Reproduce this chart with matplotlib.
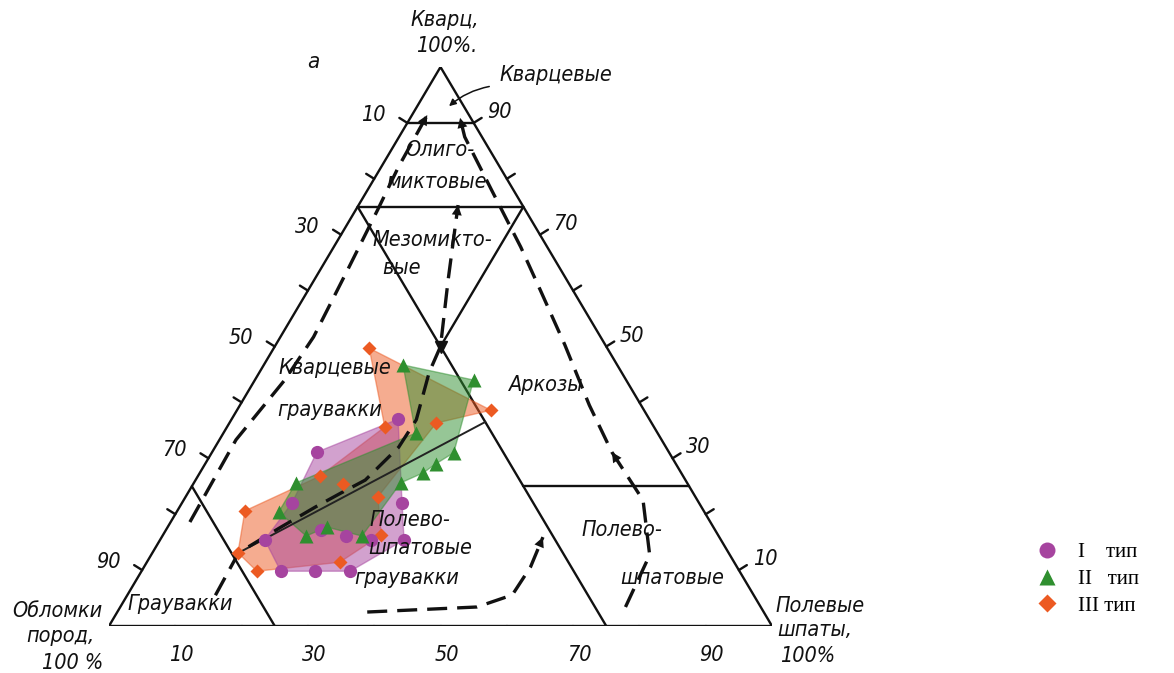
import numpy as np
import matplotlib.pyplot as plt
from matplotlib.lines import Line2D

# compositions: Q = quartz %, F = feldspar %, rock fragments = 100 - Q - F
q1 = [37.0, 22.0, 15.4, 9.8, 9.8, 9.8, 15.4, 22.0, 31.1, 17.2, 16.1, 15.4]
f1 = [25.1, 33.2, 36.8, 31.5, 26.1, 21.0, 15.8, 16.6, 15.8, 23.4, 27.7, 31.8]
q2 = [46.7, 44.0, 31.0, 29.0, 27.4, 25.6, 16.1, 17.7, 16.1, 20.4, 25.6, 34.5]
f2 = [21.0, 33.0, 36.5, 34.8, 33.7, 31.2, 30.1, 24.0, 21.7, 15.4, 15.4, 29.0]
q3 = [49.7, 38.6, 36.3, 23.1, 16.3, 11.4, 9.8, 13.1, 20.6, 26.8, 35.6, 25.4]
f3 = [14.4, 38.3, 31.2, 29.0, 32.9, 29.1, 17.4, 12.9, 10.2, 18.4, 23.8, 22.6]

# outline order of each field
outline1 = [0, 1, 2, 3, 4, 5, 6, 7, 8]
outline2 = list(range(12))
outline3 = list(range(11))

# trend lines (dashed)
left_q = [18.6, 33.3, 44.0, 51.7, 64.2, 74.4, 82.1, 91.4]
left_f = [2.9, 2.5, 4.5, 5.0, 4.1, 3.3, 2.6, 2.3]
mid_q = [5.5, 13.1, 17.7, 21.3, 23.8, 26.1, 32.0, 36.9, 45.4, 50.0, 61.9, 75.3]
mid_f = [13.3, 13.0, 17.1, 20.5, 23.1, 25.6, 27.7, 27.9, 25.6, 25.0, 20.2, 15.0]
right_q = [3.4, 12.7, 22.5, 31.1, 39.5, 50.3, 60.1, 67.8, 78.0, 87.5, 90.9]
right_f = [76.2, 75.2, 69.3, 60.3, 52.7, 43.6, 35.0, 28.2, 18.7, 9.9, 7.5]
bot_q = [2.5, 3.4, 5.55, 10.55, 15.9]
bot_f = [37.7, 53.8, 58.05, 58.3, 57.5]

ticks = [10, 20, 30, 40, 50, 60, 70, 80, 90]
labels = [10, 30, 50, 70, 90]


def tern(q, f):
    q = np.asarray(q, float) / 100
    f = np.asarray(f, float) / 100
    return f + q / 2, q


W, H = 1174, 673
fig = plt.figure(figsize=(W / 100, H / 100), dpi=100)
ax = fig.add_axes([109 / W, 47 / H, 663 / W, 559 / H])
ax.set_xlim(0, 1)
ax.set_ylim(0, 1)
ax.axis('off')

hand = dict(family='DejaVu Sans', style='italic', stretch='condensed', color='#111111')


def fp(x, y):
    return x / W, 1 - y / H


def label(x, y, s, size=15.5, **kw):
    fig.text(*fp(x, y), s, fontsize=size, ha='center', va='center', **hand, **kw)


# triangle and field boundaries
lk = dict(color='#111111', lw=1.7, solid_capstyle='round')
ax.plot(*tern([100, 0, 0, 100], [0, 0, 100, 0]), **lk)
ax.plot(*tern([90, 90], [0, 10]), **lk)
ax.plot(*tern([75, 75], [0, 25]), **lk)
ax.plot(*tern([75, 0], [0, 75]), **lk)
ax.plot(*tern([75, 50], [25, 25]), **lk)
ax.plot(*tern([25, 0], [0, 25]), **lk)
ax.plot(*tern([25, 25], [50, 75]), **lk)
ax.plot(*tern([13.1, 36.5], [13.0, 38.5]), color='#222222', lw=1.4, zorder=4)

# ticks
for v in ticks:
    x, y = tern(0, v)
    ax.plot([x, x], [0, -9 / 559], **lk)
    x, y = tern(v, 0)
    ax.plot([x, x - 8 / 663], [y, y + 5 / 559], **lk)
    x, y = tern(v, 100 - v)
    ax.plot([x, x + 8 / 663], [y, y + 5 / 559], **lk)

for v in labels:
    ax.annotate(str(v), tern(0, v), xytext=(6, -29), textcoords='offset pixels',
                ha='center', va='center', fontsize=15.5, **hand)
    ax.annotate(str(100 - v), tern(v, 0), xytext=(-34, 8), textcoords='offset pixels',
                ha='center', va='center', fontsize=15.5, **hand)
    ax.annotate(str(v), tern(v, 100 - v), xytext=(26, 11), textcoords='offset pixels',
                ha='center', va='center', fontsize=15.5, **hand)

# composition fields
fields = {
    'I': (q1, f1, outline1, '#a6449f', 'o', 9.5, 'I    тип'),
    'II': (q2, f2, outline2, '#2f8f2f', '^', 9.5, 'II   тип'),
    'III': (q3, f3, outline3, '#ec5a22', 'D', 7, 'III тип'),
}
for key in ['III', 'I', 'II']:
    q, f, idx, c, m, ms, name = fields[key]
    x, y = tern(q, f)
    ax.fill(x[idx], y[idx], color=c, alpha=0.5, lw=1, ec=c, zorder=3)
for key in ['III', 'I', 'II']:
    q, f, idx, c, m, ms, name = fields[key]
    x, y = tern(q, f)
    ax.plot(x, y, ls='none', marker=m, ms=ms, color=c, mec='none', zorder=5)

# trend arrows
dk = dict(color='#111111', lw=2.4, dashes=(6, 3), zorder=4)
for qq, ff in [(left_q, left_f), (mid_q, mid_f), (right_q, right_f), (bot_q, bot_f)]:
    ax.plot(*tern(qq, ff), **dk)


def head(qq, ff, i):
    tip = tern(qq[i], ff[i])
    back = tern(qq[i - 1], ff[i - 1])
    ax.annotate('', xy=tip, xytext=back, zorder=6,
                arrowprops=dict(arrowstyle='-|>', color='#111111', lw=0,
                                mutation_scale=18, shrinkA=0, shrinkB=0))


head(left_q, left_f, -1)
head(mid_q, mid_f, -1)
head(right_q, right_f, -1)
head(right_q, right_f, 3)
head(bot_q, bot_f, -1)
ax.plot(*tern(50, 25), marker='v', ms=8, color='#111111', zorder=6)

# labels
label(313, 62, 'а', 16)
label(445, 20, 'Кварц,')
label(447, 46, '100%.')
label(556, 75, 'Кварцевые')
ax.annotate('', xy=(447, H - 108), xycoords='figure pixels',
            xytext=(492, H - 86), textcoords='figure pixels',
            arrowprops=dict(arrowstyle='-|>', color='#111111', lw=1.1,
                            mutation_scale=10, connectionstyle='arc3,rad=0.15'))
label(440, 150, 'Олиго-')
label(437, 182, 'миктовые')
label(432, 240, 'Мезомикто-')
label(402, 268, 'вые')
label(335, 368, 'Кварцевые')
label(330, 410, 'граувакки')
label(545, 385, 'Аркозы')
label(410, 520, 'Полево-')
label(420, 548, 'шпатовые')
label(407, 578, 'граувакки')
label(180, 604, 'Граувакки')
label(622, 530, 'Полево-')
label(672, 578, 'шпатовые')
label(57, 611, 'Обломки')
label(60, 636, 'пород,')
label(73, 663, '100 %')
label(820, 606, 'Полевые')
label(815, 630, 'шпаты,')
label(808, 656, '100%')

order = ['I', 'II', 'III']
handles = [Line2D([], [], ls='none', marker=fields[k][4], ms=fields[k][5] + 2,
                  color=fields[k][3], mec='none') for k in order]
names = [fields[k][6] for k in order]
fig.legend(handles, names, loc='upper left', bbox_to_anchor=fp(1024, 532),
           frameon=False, prop=dict(family='Liberation Serif', size=15),
           handletextpad=0.9, labelspacing=0.35, handlelength=1.2, borderpad=0)

fig.savefig('out.png', dpi=100, facecolor='white')
